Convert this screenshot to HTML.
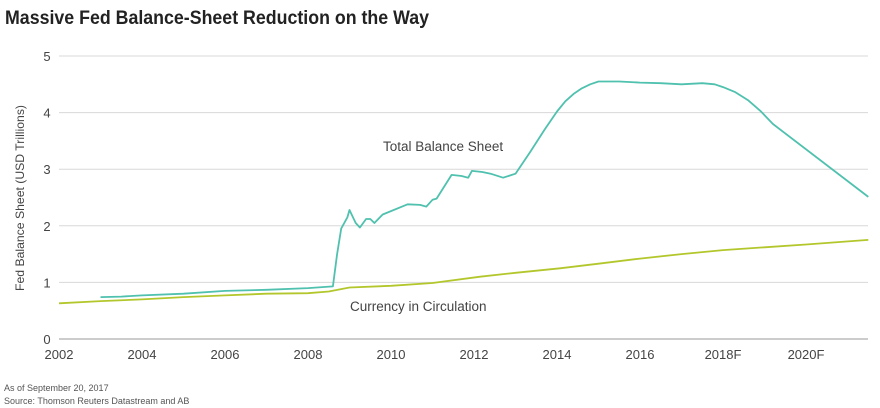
<!DOCTYPE html>
<html><head><meta charset="utf-8"><style>
body{margin:0;background:#fff;width:880px;height:408px;overflow:hidden;font-family:"Liberation Sans",sans-serif}
svg{display:block}
</style></head><body>
<svg width="880" height="408">
<text x="5" y="24" font-size="19.5" font-weight="bold" fill="#222" textLength="424" lengthAdjust="spacingAndGlyphs">Massive Fed Balance-Sheet Reduction on the Way</text>
<g id="grid"></g><g id="lines"></g><g id="ticks"></g>
<text transform="translate(24,198) rotate(-90)" text-anchor="middle" font-size="12" fill="#444" textLength="186" lengthAdjust="spacingAndGlyphs">Fed Balance Sheet (USD Trillions)</text>
<text x="383" y="151" font-size="13.5" fill="#444">Total Balance Sheet</text>
<text x="350" y="311" font-size="13.5" fill="#444">Currency in Circulation</text>
<text x="4" y="391" font-size="9" fill="#555">As of September 20, 2017</text>
<text x="4" y="404" font-size="9" fill="#555">Source: Thomson Reuters Datastream and AB</text>
</svg>
<script>
const xTicks=[2002,2004,2006,2008,2010,2012,2014,2016,2018,2020];
const xTickLabels=["2002","2004","2006","2008","2010","2012","2014","2016","2018F","2020F"];
const yTicks=[0,1,2,3,4,5];
const totalYears=[2003.0,2003.5,2004,2005,2006,2007,2008,2008.6,2008.7,2008.8,2008.95,2009.0,2009.15,2009.25,2009.4,2009.5,2009.6,2009.8,2010.4,2010.7,2010.85,2011.0,2011.1,2011.46,2011.7,2011.86,2011.95,2012.2,2012.4,2012.7,2013.0,2013.35,2013.7,2014.0,2014.2,2014.4,2014.6,2014.8,2015.0,2015.5,2016,2016.5,2017,2017.5,2017.8,2018.0,2018.3,2018.6,2018.9,2019.2,2021.5];
const totalValues=[0.74,0.75,0.77,0.80,0.85,0.87,0.90,0.93,1.5,1.95,2.15,2.28,2.05,1.97,2.12,2.12,2.05,2.2,2.38,2.37,2.34,2.46,2.48,2.90,2.88,2.85,2.97,2.95,2.92,2.85,2.92,3.3,3.7,4.02,4.2,4.33,4.43,4.5,4.55,4.55,4.53,4.52,4.5,4.52,4.5,4.45,4.36,4.22,4.03,3.8,2.51];
const currYears=[2002,2003,2004,2005,2006,2007,2008,2008.5,2009,2010,2011,2012.15,2013,2014.07,2015,2016,2017,2018,2019,2020,2021.5];
const currValues=[0.63,0.67,0.70,0.74,0.77,0.80,0.81,0.84,0.91,0.94,0.99,1.10,1.17,1.25,1.33,1.42,1.50,1.57,1.62,1.67,1.75];
const NS="http://www.w3.org/2000/svg";
const X=y=>59+(y-2002)*41.5, Y=v=>339-v*56.6;
function mk(t,a,p){const e=document.createElementNS(NS,t);for(const k in a)e.setAttribute(k,a[k]);p.appendChild(e);return e;}
const grid=document.getElementById('grid'),ticks=document.getElementById('ticks'),lines=document.getElementById('lines');
yTicks.forEach(v=>{
 const l=mk('line',{x1:59,x2:868,y1:Y(v),y2:Y(v),stroke:v==0?'#999':'#d8d8d8','stroke-width':1},grid);
 
 
 const t=mk('text',{x:47,y:Y(v)+5,'font-size':13,fill:'#444','text-anchor':'middle'},ticks);t.textContent=v;
 
 
});
xTicks.forEach((y,i)=>{
 const t=mk('text',{x:X(y),y:359,'font-size':13,fill:'#444','text-anchor':'middle'},ticks);t.textContent=xTickLabels[i];
 
 
});
function path(xs,vs,col,name){
 const d=xs.map((x,k)=>(k?'L':'M')+X(x).toFixed(1)+','+Y(vs[k]).toFixed(1)).join('');
 const p=mk('path',{d:d,fill:'none',stroke:col,'stroke-width':1.8,'stroke-linejoin':'round'},lines);
 
 
}
path(currYears,currValues,'#b3c72c','currency-line');
path(totalYears,totalValues,'#4fc1ae','total-balance-line');
</script>
</body></html>
